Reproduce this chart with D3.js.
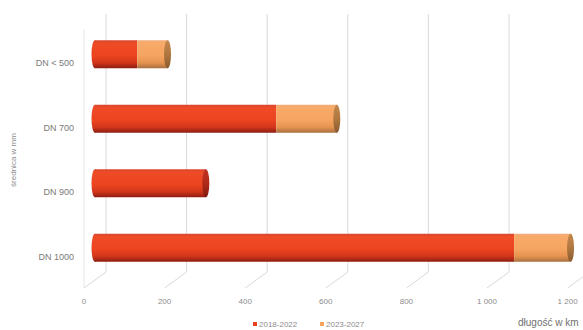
<!DOCTYPE html>
<html><head><meta charset="utf-8">
<script src="https://cdn.jsdelivr.net/npm/d3@7"></script>
<style>html,body{margin:0;padding:0;background:#fff;}svg{display:block;font-family:"Liberation Sans",Arial,sans-serif;}</style>
</head><body>
<svg id="c" width="583" height="330"></svg>
<script>
const categories = ["DN < 500", "DN 700", "DN 900", "DN 1000"];
const seriesNames = ["2018-2022", "2023-2027"];
const series2018 = [105, 450, 275, 1040];
const series2023 = [75, 150, 0, 140];
const xTicks = [0, 200, 400, 600, 800, 1000, 1200];

const svg = d3.select("#c");
const W = 583, H = 330;
const depthX = 22, depthY = -16;
const frontX0 = 84, frontX1 = 567.6;
const backTop = 14, backBottom = 272;

const xFront = d3.scaleLinear().domain([0, 1200]).range([frontX0, frontX1]);
const xMid = v => xFront(v) + depthX / 2;
const xBack = v => xFront(v) + depthX;
const y = d3.scaleBand().domain(categories).range([backTop - depthY / 2, backBottom - depthY / 2]);
const barH = 28;

const fmt = v => d3.format(",")(v).replace(/,/g, " ");

const defs = svg.append("defs");
function grad(id, stops) {
  const g = defs.append("linearGradient").attr("id", id).attr("x1", 0).attr("y1", 0).attr("x2", 0).attr("y2", 1);
  stops.forEach(s => g.append("stop").attr("offset", s[0]).attr("stop-color", s[1]));
}
grad("gRed", [[0, "#d9472e"], [0.12, "#ee4b26"], [0.55, "#ec4420"], [0.8, "#d2361a"], [1, "#8e1d12"]]);
grad("gOr", [[0, "#f1ad78"], [0.12, "#f8aa68"], [0.55, "#f6a461"], [0.8, "#e6934f"], [1, "#a8703e"]]);
grad("gRedCap", [[0, "#c23220"], [0.5, "#b02a18"], [1, "#7e1a10"]]);
grad("gOrCap", [[0, "#c4874d"], [0.5, "#b07840"], [1, "#8a5a30"]]);

const gridColor = "#d9d9d9";
const grid = svg.append("g");
grid.selectAll("line.back").data(xTicks.filter(t => xBack(t) < W)).enter().append("line")
  .attr("x1", d => xBack(d)).attr("x2", d => xBack(d))
  .attr("y1", backTop).attr("y2", backBottom)
  .attr("stroke", gridColor).attr("stroke-width", 1);
grid.selectAll("line.floor").data(xTicks).enter().append("line")
  .attr("x1", d => xFront(d)).attr("y1", backBottom - depthY)
  .attr("x2", d => xBack(d)).attr("y2", backBottom)
  .attr("stroke", gridColor).attr("stroke-width", 1);
grid.append("line").attr("x1", xFront(0)).attr("x2", xFront(0))
  .attr("y1", backTop - depthY).attr("y2", backBottom - depthY)
  .attr("stroke", "#e6e6e6").attr("stroke-width", 1);

svg.append("g").selectAll("text").data(xTicks).enter().append("text")
  .attr("x", d => xFront(d)).attr("y", 304)
  .attr("text-anchor", "middle").attr("font-size", 8).attr("fill", "#8c8c8c")
  .text(d => fmt(d));

svg.append("g").selectAll("text").data(categories).enter().append("text")
  .attr("x", 74).attr("y", d => y(d) + y.bandwidth() / 2 + 12)
  .attr("text-anchor", "end").attr("font-size", 9).attr("fill", "#7a7a7a")
  .text(d => d);

svg.append("text").attr("transform", "translate(16,160) rotate(-90)")
  .attr("text-anchor", "middle").attr("font-size", 8).attr("fill", "#8c8c8c")
  .text("średnica w mm");

const rx = 3.5;
const bars = svg.append("g");
categories.forEach((c, i) => {
  const cy = y(c) + y.bandwidth() / 2;
  const top = cy - barH / 2;
  const v1 = series2018[i], v2 = series2023[i];
  const g = bars.append("g");
  g.append("ellipse").attr("cx", xMid(0)).attr("cy", cy).attr("rx", rx).attr("ry", barH / 2).attr("fill", "url(#gRed)");
  g.append("rect").attr("x", xMid(0)).attr("y", top).attr("width", xMid(v1) - xMid(0)).attr("height", barH).attr("fill", "url(#gRed)");
  if (v2 > 0) {
    g.append("rect").attr("x", xMid(v1)).attr("y", top).attr("width", xMid(v1 + v2) - xMid(v1)).attr("height", barH).attr("fill", "url(#gOr)");
    g.append("ellipse").attr("cx", xMid(v1 + v2)).attr("cy", cy).attr("rx", rx).attr("ry", barH / 2).attr("fill", "url(#gOrCap)");
  } else {
    g.append("ellipse").attr("cx", xMid(v1)).attr("cy", cy).attr("rx", rx).attr("ry", barH / 2).attr("fill", "url(#gRedCap)");
  }
});

const leg = svg.append("g");
const legX = [253, 320];
seriesNames.forEach((s, i) => {
  leg.append("rect").attr("x", legX[i]).attr("y", 322).attr("width", 4).attr("height", 4).attr("fill", i === 0 ? "#e8401c" : "#f7a35c");
  leg.append("text").attr("x", legX[i] + 6).attr("y", 327).attr("font-size", 8).attr("fill", "#8c8c8c").text(s);
});

svg.append("text").attr("x", 518).attr("y", 326).attr("font-size", 10).attr("fill", "#707070").text("długość w km");
</script>
</body></html>
